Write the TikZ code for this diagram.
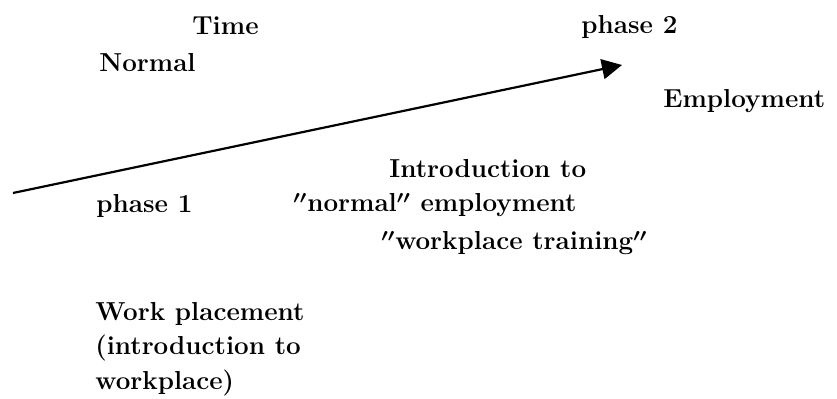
\documentclass[tikz,border=0pt]{standalone}
\usetikzlibrary{arrows.meta,positioning}

\newcommand{\dq}{\mbox{\boldmath$''$}}
\tikzset{
  lbl/.style={anchor=base west, inner sep=0pt, font=\fontsize{13}{17.25}\selectfont\bfseries},
  timeline/.style={line width=1.1pt, -{Triangle[length=10pt,width=10pt]}},
}

\begin{document}
\begin{tikzpicture}[x=0.5pt,y=-0.5pt]
  \useasboundingbox (0,0) rectangle (837,399);

  \node[lbl] (time) at (192,35) {Time};
  \node[lbl] (phasetwo) at (581,34) {phase 2};
  \node[lbl] (normal) at (99,72) {Normal};
  \node[lbl] (employ) at (663,108) {Employment};

  \node[lbl] (intro) at (389,178) {Introduction to};
  \node[lbl] (phaseone) at (96,213) {phase 1};
  \node[lbl] (normemp) at (293,212) {\dq normal\dq{} employment};
  \node[lbl] (wptrain) at (381,250) {\dq workplace training\dq};

  \node[lbl, anchor=north west, align=left] (wplace) at (95,302)
    {Work placement\\(introduction to\\workplace)};

  \coordinate (tail) at (13,193);
  \coordinate (head) at (622,65);
  \draw[timeline] (tail) -- (head);
\end{tikzpicture}
\end{document}
